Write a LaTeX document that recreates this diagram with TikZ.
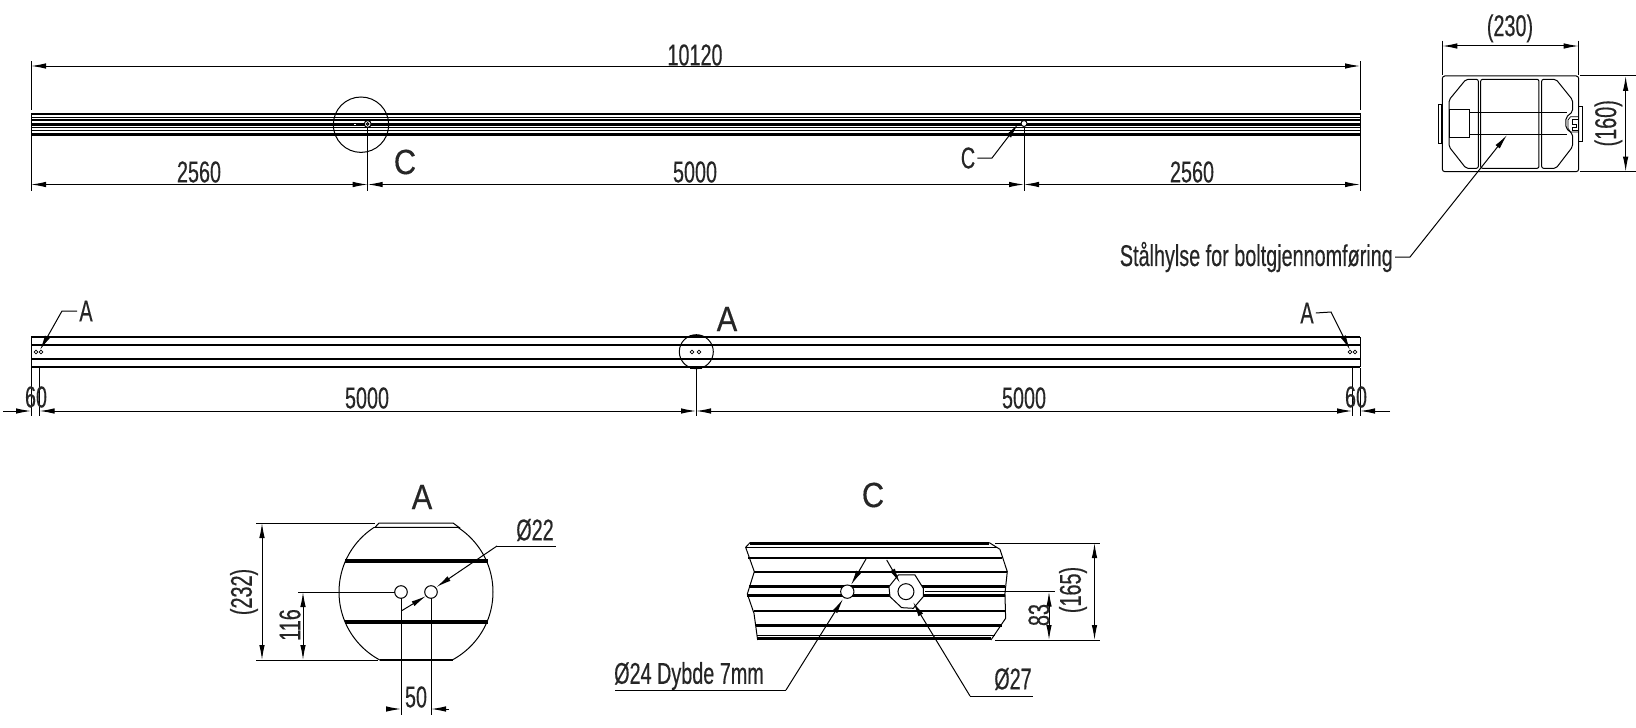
\documentclass[tikz,border=0pt]{standalone}
\usepackage{fontspec}
\setmainfont[FakeStretch=0.66, FakeBold=0.35]{Liberation Sans}
\newfontfamily\wideletters[FakeStretch=0.88, FakeBold=0.3]{Liberation Sans}
\usetikzlibrary{arrows.meta}

\tikzset{
  tip/.tip = {Latex[length = 15pt, width = 5.5pt]},
  thinline/.style = {line width = 1pt, color = black},
  thickline/.style = {line width = 2.4pt, color = black},
  dimline/.style = {thinline, {tip}-{tip}},
  dimleft/.style = {thinline, -{tip}},
  leader/.style = {thinline, -{tip}},
  dimtext/.style = {inner sep = 0pt, text = black!85, font = \fontsize{30}{30}\selectfont},
  viewtext/.style = {inner sep = 0pt, text = black!85, font = \wideletters\fontsize{35}{35}\selectfont}
}

\begin{document}
\begin{tikzpicture}[x = 1pt, y = -1pt]

\useasboundingbox (0, 0) rectangle (1636, 728);

% top view
\draw[line width = 2pt] (31, 114.3) -- (1360, 114.3);
\draw[thinline] (31, 117.3) -- (1360, 117.3);
\draw[line width = 1.8pt] (31, 120.3) -- (1360, 120.3);
\draw[line width = 2.7pt] (31, 124.3) -- (1360, 124.3);
\draw[thinline] (31, 127.7) -- (1360, 127.7);
\draw[thinline] (31, 130.3) -- (1360, 130.3);
\draw[line width = 2.8pt] (31, 134.5) -- (1360, 134.5);
\draw[thinline] (31, 113) -- (31, 137) (1360, 113) -- (1360, 137);

\draw[thinline] (361, 124.7) circle (27.7);
\draw[thinline, fill = white] (367.7, 124) circle (3.4);
\draw[thinline] (367.7, 124) circle (1.3);
\draw[thinline, fill = white] (353, 123) rectangle (356, 125);
\draw[thinline, fill = white] (1024, 123.5) circle (3);

\draw[thinline] (31, 61) -- (31, 110);
\draw[thinline] (1360, 61) -- (1360, 110);
\draw[dimline] (31, 66) -- (1360, 66);
\node[dimtext] (toplength) at (695, 55) {10120};

\draw[thinline] (31, 137) -- (31, 191);
\draw[thinline] (367.7, 127) -- (367.7, 191);
\draw[thinline] (1024, 127) -- (1024, 191);
\draw[thinline] (1360, 137) -- (1360, 191);
\draw[dimline] (31, 184.5) -- (367.7, 184.5);
\draw[dimline] (367.7, 184.5) -- (1024, 184.5);
\draw[dimline] (1024, 184.5) -- (1360, 184.5);
\node[dimtext] (topleft) at (199, 172) {2560};
\node[dimtext] (topmid) at (695, 172) {5000};
\node[dimtext] (topright) at (1192, 172) {2560};
\node[viewtext] (markc) at (405, 162) {C};
\node[dimtext] (leaderc) at (968, 158) {C};
\draw[leader] (leaderc.east) ++(2, 0) -- (992, 158) -- (1018, 124);

% side view
\foreach \y in {337, 345, 359, 367} {
  \draw[thickline] (31, \y) -- (1360, \y);
}
\draw[thinline] (31, 337) -- (31, 367) (1360, 337) -- (1360, 367);
\draw[thinline] (696.3, 351.7) circle (17);
\draw[thickline] (690, 336) -- (702, 336) (690, 368) -- (702, 368);
\foreach \x in {36, 41, 692, 699, 1350, 1355} {
  \draw[line width = 0.7pt] (\x, 352) circle (1.8);
}

\draw[thinline] (31, 368) -- (31, 416);
\draw[thinline] (39.5, 368) -- (39.5, 416);
\draw[thinline] (696, 368) -- (696, 416);
\draw[thinline] (1352, 368) -- (1352, 416);
\draw[thinline] (1360, 368) -- (1360, 416);
\draw[dimleft] (3, 411) -- (31, 411);
\draw[dimline] (39.5, 411) -- (696, 411);
\draw[dimline] (696, 411) -- (1352, 411);
\draw[dimleft] (1390, 411) -- (1360, 411);
\node[dimtext] (sideleft) at (36, 397) {60};
\node[dimtext] (sidea) at (367, 398) {5000};
\node[dimtext] (sideb) at (1024, 398) {5000};
\node[dimtext] (sideright) at (1356, 397) {60};
\node[viewtext] (marka) at (727, 319) {A};
\node[dimtext] (leaderal) at (86, 311) {A};
\node[dimtext] (leaderar) at (1307, 313) {A};
\draw[leader] (leaderal.west) ++(-2, 0) -- (62, 311) -- (40, 350);
\draw[leader] (leaderar.east) ++(2, 0) -- (1331, 312) -- (1350, 350);

% section
\begin{scope}[shift = {(1340, 0)}, scale = 0.3333]
\draw[thinline, rounded corners = 2.5pt] (307, 228) rectangle (716, 515);
\draw[thinline, rounded corners = 2pt] (378, 238) -- (415, 238) -- (415, 505) -- (378, 505) -- (327, 440) -- (327, 300) -- cycle;
\draw[thinline, rounded corners = 2pt] (422, 238) rectangle (597, 505);
\draw[thinline, rounded corners = 2pt] (605, 238) -- (648, 238) -- (698, 300) -- (698, 335) -- (678, 352) -- (678, 385) -- (698, 402) -- (698, 440) -- (648, 505) -- (605, 505) -- cycle;
\draw[thinline] (327, 330) rectangle (387, 413);
\draw[thinline] (387, 337) -- (680, 337) (387, 405) -- (680, 405);
\draw[thinline] (295, 313) rectangle (305, 430);
\draw[thinline] (716, 320) rectangle (727, 425);
\draw[line width = 0.7pt] (716, 350) -- (692, 350) -- (684, 360) -- (684, 385) -- (692, 396) -- (716, 396);
\draw[line width = 0.7pt] (716, 358) -- (698, 358) -- (698, 372) -- (710, 372) -- (710, 382) -- (698, 382) -- (698, 390) -- (716, 390);
\draw[thinline] (307, 122) -- (307, 224);
\draw[thinline] (716, 122) -- (716, 224);
\draw[dimline] (307, 138) -- (716, 138);
\draw[thinline] (720, 228) -- (888, 228);
\draw[thinline] (720, 515) -- (888, 515);
\draw[dimline] (857, 228) -- (857, 515);
\node[dimtext] (sectionwidth) at (510, 85) {(230)};
\node[dimtext, rotate = 90] (sectionheight) at (805, 370) {(160)};
\end{scope}
\node[dimtext, anchor = east] (hylse) at (1393, 257) {Stålhylse for boltgjennomføring};
\draw[leader] (hylse.east) ++(2, 0) -- (1410, 257) -- (1507, 135);

% detail A
\begin{scope}
\clip (300, 527.3) rectangle (530, 660);
\draw[thinline] (416, 592) circle (77);
\end{scope}
\draw[thinline] (375, 527.3) -- (379, 523) -- (453, 523) -- (459, 527.3) -- cycle;
\draw[thickline] (380, 660) -- (453, 660);
\draw[line width = 3.4pt] (345, 561) -- (488, 561);
\draw[line width = 3.4pt] (345, 622) -- (488, 622);
\draw[thinline, fill = white] (401, 592) circle (6.3);
\draw[thinline, fill = white] (431, 592) circle (6.3);
\draw[thinline] (256, 523) -- (375, 523);
\draw[thinline] (256, 660) -- (378, 660);
\draw[dimline] (262, 523) -- (262, 660);
\node[dimtext, rotate = 90] (heighta) at (244, 592) {(232)};
\draw[thinline] (298, 592) -- (395, 592);
\draw[dimline] (303, 592) -- (303, 660);
\node[dimtext, rotate = 90] (halfa) at (290, 625) {116};
\draw[thinline] (401, 598) -- (401, 715);
\draw[thinline] (431, 598) -- (431, 715);
\draw[dimleft] (386, 709) -- (401, 709);
\draw[dimleft] (449, 709) -- (431, 709);
\node[dimtext] (pitcha) at (416, 697) {50};
\draw[leader] (401.7, 610.7) -- (426, 596);
\draw[leader] (497, 546) -- (436.5, 587);
\draw[thinline] (497, 546) -- (556, 546);
\node[dimtext] (holea) at (535, 530) {Ø22};
\node[viewtext] (titlea) at (422, 497) {A};

% detail C
\begin{scope}[shift = {(570, 450)}, scale = 0.3333]
\draw[thinline] (540, 278) -- (527, 292) -- (553, 365) -- (532, 432) -- (552, 490) -- (563, 570);
\draw[thinline] (1258, 278) -- (1290, 298) -- (1312, 365) -- (1305, 430) -- (1307, 505) -- (1263, 570);
\draw[line width = 3pt] (540, 280) -- (1258, 280);
\draw[thinline] (527, 292) -- (1282, 292);
\draw[thickline] (535, 324) -- (1297, 324);
\draw[thickline] (553, 366) -- (1312, 366);
\draw[line width = 3pt] (538, 411) -- (1305, 411);
\draw[line width = 3pt] (532, 436) -- (1305, 436);
\draw[thickline] (552, 483) -- (1307, 483);
\draw[thickline] (558, 527) -- (1296, 527);
\draw[thinline] (560, 557) -- (1276, 557);
\draw[line width = 3pt] (563, 567) -- (1262, 567);
\draw[thinline, fill = white] (985, 375) -- (1035, 375) -- (1060, 415) -- (1060, 440) -- (1030, 475) -- (995, 473) -- (960, 440) -- (957, 410) -- cycle;
\draw[thinline, fill = white] (1008, 425) circle (24);
\draw[thinline, fill = white] (832, 425) ellipse (20 and 20);
\end{scope}
\draw[thinline] (995, 543) -- (1100, 543);
\draw[thinline] (995, 640) -- (1100, 640);
\draw[thinline] (925, 591.7) -- (1055, 591.7);
\draw[dimline] (1049, 591.7) -- (1049, 640);
\draw[dimline] (1094.5, 543) -- (1094.5, 640);
\node[dimtext, rotate = 90] (heightc) at (1073, 590) {(165)};
\node[dimtext, rotate = 90] (halfc) at (1039, 615) {83};
\node[viewtext] (titlec) at (873, 495) {C};
\node[dimtext] (holecl) at (689, 676) {Ø24 Dybde 7mm};
\node[dimtext] (holecr) at (1013, 679) {Ø27};
\draw[thinline] (615, 690) -- (786, 690);
\draw[leader] (786, 690) -- (843, 599);
\draw[leader] (866, 559) -- (851, 585);
\draw[thinline] (970, 696) -- (1033, 696);
\draw[leader] (970, 696) -- (913, 602);
\draw[leader] (886.7, 560) -- (900, 583);

\end{tikzpicture}
\end{document}
